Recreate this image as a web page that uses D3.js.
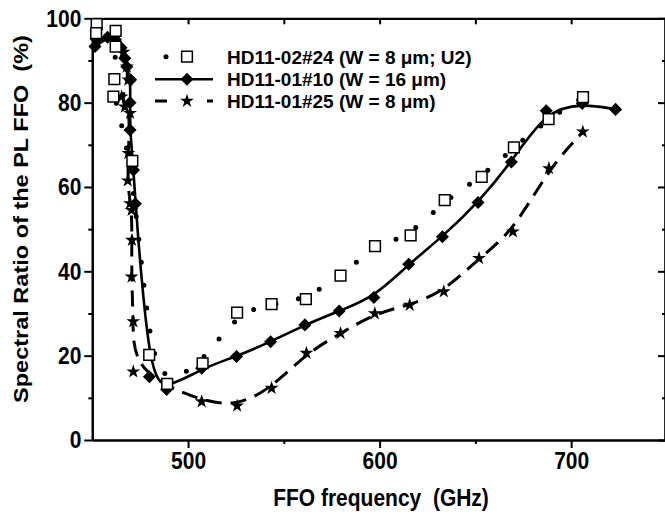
<!DOCTYPE html>
<html>
<head>
<meta charset="utf-8">
<script src="https://cdn.jsdelivr.net/npm/d3@7"></script>
<style>
  body { margin: 0; background: #fff; }
  text { font-family: "Liberation Sans", Arial, sans-serif; font-weight: bold; fill: #000; white-space: pre; }
</style>
</head>
<body>
<script>
const w = 665;
const h = 516;

// data: [frequency GHz, ratio %]
const seriesNames = ["HD11-02#24 (W = 8 \u03bcm; U2)", "HD11-01#10 (W = 16 \u03bcm)", "HD11-01#25 (W = 8 \u03bcm)"];
const squares = [
  [452.3, 98.6], [452, 96.5], [462.2, 97.0], [462.2, 93.3], [461.5, 85.6], [461, 81.4],
  [470.9, 66.2], [479.7, 20.2], [489.1, 13.3], [507.6, 18.2], [525.6, 30.2], [543.6, 32.2],
  [561.5, 33.4], [579.6, 39.0], [597.6, 46.0], [616.2, 48.5], [634, 56.9], [653.3, 62.4],
  [670.1, 69.4], [688.2, 76.1], [706.2, 81.3]
];
const diamonds = [
  [451.4, 93.3], [458, 95.5], [462, 95.0], [465, 93.0], [467, 90.5], [468, 88.5],
  [470, 85.4], [469.7, 80], [469.7, 73.5], [471.5, 64], [472.5, 56], [479.8, 15.0],
  [488.8, 12.0], [507.1, 17.0], [525.3, 19.8], [543.1, 23.3], [561, 27.3], [578.9, 30.6],
  [597, 33.8], [615.2, 41.7], [632.8, 48.2], [651.4, 56.3], [668.8, 65.9], [687, 78.1],
  [705.8, 79.8], [723.2, 78.4]
];
const stars = [
  [452, 94.5], [462, 96], [466.3, 92], [468, 88.5], [468.8, 85.4], [465.3, 81.4],
  [467, 79], [469.7, 77.5], [468.8, 68], [468.5, 61.5], [469.7, 56.1], [470.5, 54.5],
  [470.7, 47.4], [470.5, 38.7], [471.4, 28.1], [471.4, 16.2], [507.1, 9.1], [525.6, 8.1],
  [543.6, 12.3], [561.8, 20.6], [579.6, 25.3], [597.5, 30.0], [615.7, 32.0], [633.5, 35.2],
  [651.9, 43.1], [669.6, 49.4], [688.4, 64.4], [706.1, 73.1]
];
const xMajor = [500, 600, 700];
const xMinor = [550, 650];
const xTop = [500, 550, 600, 650, 700];
const yMajor = [0, 20, 40, 60, 80, 100];
const yMinor = [10, 30, 50, 70, 90];

const svg = d3.select("body").append("svg").attr("width", w).attr("height", h);

const xScale = d3.scaleLinear().domain([450, 749]).range([92.3, 665]);
const yScale = d3.scaleLinear().domain([0, 100]).range([440, 18.3]);
const stretch = "scale(1,1.15)";

//axes
function styleAxis(g) {
  g.select(".domain").attr("stroke-width", 2.2);
  g.selectAll(".tick line").attr("stroke-width", 2);
  g.selectAll(".tick text").style("font-size", "21px").attr("transform", stretch);
}

svg.append("g")
  .attr("transform", "translate(0," + yScale(0) + ")")
  .call(d3.axisBottom(xScale).tickValues(xMajor).tickSize(8).tickPadding(2).tickSizeOuter(0))
  .call(styleAxis);
svg.append("g")
  .attr("transform", "translate(0," + yScale(0) + ")")
  .call(d3.axisBottom(xScale).tickValues(xMinor).tickSize(4).tickFormat("").tickSizeOuter(0))
  .call(styleAxis);
svg.append("g")
  .attr("transform", "translate(0," + yScale(100) + ")")
  .call(d3.axisTop(xScale).tickValues(xTop).tickSize(-6).tickFormat("").tickSizeOuter(0))
  .call(styleAxis);

svg.append("g")
  .attr("transform", "translate(" + xScale(450) + ",0)")
  .call(d3.axisLeft(yScale).tickValues(yMajor).tickSize(8).tickPadding(3).tickSizeOuter(0))
  .call(styleAxis);
svg.append("g")
  .attr("transform", "translate(" + xScale(450) + ",0)")
  .call(d3.axisLeft(yScale).tickValues(yMinor).tickSize(4).tickFormat("").tickSizeOuter(0))
  .call(styleAxis);
svg.append("g")
  .attr("transform", "translate(" + xScale(749) + ",0)")
  .call(d3.axisRight(yScale).tickValues(yMajor).tickSize(-7).tickFormat("").tickSizeOuter(0))
  .call(styleAxis);
svg.append("g")
  .attr("transform", "translate(" + xScale(749) + ",0)")
  .call(d3.axisRight(yScale).tickValues(yMinor).tickSize(-3).tickFormat("").tickSizeOuter(0))
  .call(styleAxis);

// axis titles
svg.append("text")
  .attr("transform", "translate(" + 381 + "," + 506 + ") " + stretch)
  .attr("text-anchor", "middle")
  .style("font-size", "21px")
  .text("FFO frequency  (GHz)");
svg.append("text")
  .attr("transform", "translate(28," + 219 + ") rotate(-90) scale(1.12,1)")
  .attr("text-anchor", "middle")
  .style("font-size", "21px")
  .text("Spectral Ratio of the PL FFO  (%)");

//lines
const line = d3.line()
  .x((d) => xScale(d[0]))
  .y((d) => yScale(d[1]))
  .curve(d3.curveBasis);

svg.append("path").datum(squares)
  .attr("d", line).attr("fill", "none").attr("stroke", "black")
  .attr("stroke-width", 5).attr("stroke-linecap", "round").attr("stroke-dasharray", "0,23");
svg.append("path").datum(diamonds)
  .attr("d", line).attr("fill", "none").attr("stroke", "black").attr("stroke-width", 2.6);
svg.append("path").datum(stars)
  .attr("d", line).attr("fill", "none").attr("stroke", "black")
  .attr("stroke-width", 3).attr("stroke-dasharray", "16,9");

// markers
const squareSym = d3.symbol().type(d3.symbolSquare).size(115);
const diamondSym = d3.symbol().type(d3.symbolSquare).size(85);
const starSym = d3.symbol().type(d3.symbolStar).size(60);

svg.selectAll(".star").data(stars).enter().append("path")
  .attr("class", "star")
  .attr("d", starSym)
  .attr("transform", (d) => "translate(" + xScale(d[0]) + "," + yScale(d[1]) + ")")
  .attr("fill", "black");
svg.selectAll(".diamond").data(diamonds).enter().append("path")
  .attr("class", "diamond")
  .attr("d", diamondSym)
  .attr("transform", (d) => "translate(" + xScale(d[0]) + "," + yScale(d[1]) + ") rotate(45)")
  .attr("fill", "black");
svg.selectAll(".square").data(squares).enter().append("path")
  .attr("class", "square")
  .attr("d", squareSym)
  .attr("transform", (d) => "translate(" + xScale(d[0]) + "," + yScale(d[1]) + ")")
  .attr("fill", "white").attr("stroke", "black").attr("stroke-width", 1.5);

//legend
const legendY = [56.7, 79.3, 101];
const lg = svg.append("g");
lg.append("line").attr("x1", 166).attr("x2", 200).attr("y1", legendY[0]).attr("y2", legendY[0])
  .attr("stroke", "black").attr("stroke-width", 5).attr("stroke-linecap", "round").attr("stroke-dasharray", "0,34");
lg.append("path").attr("d", squareSym)
  .attr("transform", "translate(187," + legendY[0] + ")")
  .attr("fill", "white").attr("stroke", "black").attr("stroke-width", 1.5);
lg.append("line").attr("x1", 155).attr("x2", 213).attr("y1", legendY[1]).attr("y2", legendY[1])
  .attr("stroke", "black").attr("stroke-width", 2.6);
lg.append("path").attr("d", diamondSym)
  .attr("transform", "translate(187," + legendY[1] + ") rotate(45)");
lg.append("line").attr("x1", 155).attr("x2", 213).attr("y1", legendY[2]).attr("y2", legendY[2])
  .attr("stroke", "black").attr("stroke-width", 3).attr("stroke-dasharray", "12,40");
lg.append("path").attr("d", starSym)
  .attr("transform", "translate(187," + legendY[2] + ")");
lg.selectAll("text").data(seriesNames).enter().append("text")
  .attr("x", 227)
  .attr("y", (d, i) => legendY[i] + 7)
  .style("font-size", "19px")
  .text((d) => d);
</script>
</body>
</html>
